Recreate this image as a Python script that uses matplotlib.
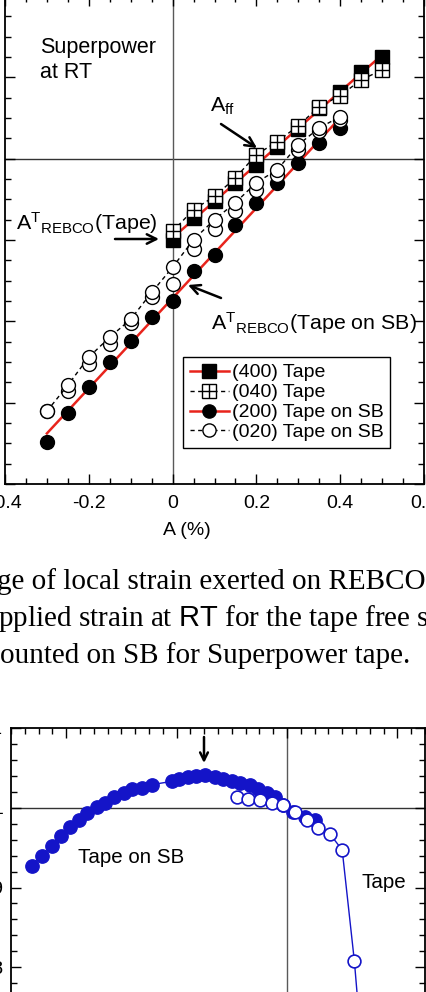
import numpy as np
import matplotlib.pyplot as plt
from matplotlib.lines import Line2D
from matplotlib.ticker import MultipleLocator

plt.rcParams['font.family'] = ['Liberation Sans', 'DejaVu Sans']
plt.rcParams['mathtext.fontset'] = 'custom'
plt.rcParams['mathtext.rm'] = 'Liberation Sans'
plt.rcParams['mathtext.sf'] = 'Liberation Sans'
plt.rcParams['mathtext.it'] = 'Liberation Sans:italic'
plt.rcParams['axes.unicode_minus'] = False

# ---- top panel: local strain on REBCO vs applied strain A (%)
tape_A = [0, 0.05, 0.1, 0.15, 0.2, 0.25, 0.3, 0.35, 0.4, 0.45, 0.5]
tape_400 = [-0.199, -0.147, -0.103, -0.059, -0.015, 0.029, 0.074, 0.125, 0.164, 0.213, 0.250]
tape_040 = [-0.179, -0.125, -0.093, -0.047, 0.010, 0.042, 0.081, 0.128, 0.155, 0.194, 0.218]

sb_A = [-0.3, -0.25, -0.2, -0.15, -0.1, -0.05, 0, 0.05, 0.1, 0.15, 0.2, 0.25, 0.3, 0.35, 0.4]
sb_200 = [-0.697, -0.626, -0.562, -0.501, -0.449, -0.390, -0.351, -0.277, -0.236,
          -0.162, -0.108, -0.059, -0.010, 0.039, 0.076]
sb_020_a = [-0.621, -0.557, -0.488, -0.439, -0.395, -0.329, -0.267, -0.199, -0.150,
            -0.108, -0.059, -0.027, 0.034, 0.076, 0.103]
sb_020_b = [-0.621, -0.572, -0.506, -0.456, -0.405, -0.341, -0.309, -0.223, -0.174,
            -0.128, -0.076, -0.039, 0.022, 0.069, 0.096]

legend_labels = ['(400) Tape', '(040) Tape', '(200) Tape on SB', '(020) Tape on SB']

# ---- bottom panel: normalized Ic vs A (%)
ic_sb_A = [-0.462, -0.444, -0.425, -0.409, -0.393, -0.376, -0.362, -0.345, -0.329, -0.313,
           -0.295, -0.280, -0.262, -0.245, -0.209, -0.195, -0.180, -0.164, -0.149, -0.131,
           -0.116, -0.100, -0.085, -0.067, -0.053, -0.036, -0.022, -0.007, 0.011, 0.033, 0.051]
ic_sb = [0.927, 0.940, 0.952, 0.964, 0.976, 0.985, 0.994, 1.001, 1.006, 1.013,
         1.018, 1.023, 1.025, 1.029, 1.033, 1.036, 1.039, 1.040, 1.041, 1.039,
         1.036, 1.033, 1.031, 1.028, 1.024, 1.019, 1.013, 1.004, 0.995, 0.989, 0.985]
ic_tape_A = [-0.091, -0.071, -0.049, -0.027, -0.007, 0.015, 0.036, 0.056, 0.078, 0.100, 0.122, 0.131]
ic_tape = [1.014, 1.011, 1.010, 1.006, 1.004, 0.995, 0.985, 0.975, 0.967, 0.947, 0.808, 0.734]

RED = '#e8241c'
BLUE = '#1414c8'
W, H = 427, 992

fig = plt.figure(figsize=(W / 100, H / 100), dpi=100)


def box(l, t, r, b):
    return [l / W, 1 - b / H, (r - l) / W, (b - t) / H]


def fp(x, y):
    # figure pixels measured from the top-left corner
    return (x, H - y)


def style_axes(ax):
    ax.tick_params(which='both', direction='in', top=True, right=True, width=1, labelsize=14)
    ax.tick_params(which='major', length=7)
    ax.tick_params(which='minor', length=4)
    for s in ax.spines.values():
        s.set_linewidth(1.3)


ax1 = fig.add_axes(box(5, -4, 424, 484))
style_axes(ax1)
ax1.set_xlim(-0.4, 0.6)
ax1.set_ylim(-0.8, 0.4)
ax1.set_xticks([-0.4, -0.2, 0, 0.2, 0.4, 0.6], labels=['-0.4', '-0.2', '0', '0.2', '0.4', '0.6'])
ax1.xaxis.set_minor_locator(MultipleLocator(0.05))
ax1.yaxis.set_major_locator(MultipleLocator(0.2))
ax1.yaxis.set_minor_locator(MultipleLocator(0.05))
ax1.tick_params(axis='y', labelleft=False)
ax1.tick_params(axis='x', pad=8)
ax1.axhline(0, color='0.2', lw=1, zorder=1)
ax1.axvline(0, color='0.35', lw=1, zorder=1)

# linear fits drawn as red lines
for xs, ys in ((tape_A, tape_400), (sb_A, sb_200)):
    k, b = np.polyfit(xs, ys, 1)
    xx = np.array([min(xs), max(xs)])
    ax1.plot(xx, k * xx + b, color=RED, lw=1.8, zorder=2)

ms = 10
dash = (0, (3, 2.5))
ax1.plot(tape_A, tape_400, ls='none', marker='s', ms=ms, mfc='k', mec='k', zorder=3)
ax1.plot(tape_A, tape_040, color='k', lw=1, ls=dash, marker='s', ms=ms, mfc='w', mec='k', mew=1, zorder=4)
ax1.plot(tape_A, tape_040, ls='none', marker='+', ms=ms, mec='k', mew=1, zorder=5)
ax1.plot(sb_A, sb_200, ls='none', marker='o', ms=ms, mfc='k', mec='k', zorder=3)
ax1.plot(sb_A, sb_020_b, ls='none', marker='o', ms=ms, mfc='w', mec='k', mew=1, zorder=4)
ax1.plot(sb_A, sb_020_a, color='k', lw=1, ls=dash, marker='o', ms=ms, mfc='w', mec='k', mew=1, zorder=4)

lms = 9.5
handles = [
    Line2D([], [], color=RED, lw=1.8, marker='s', ms=lms, mfc='k', mec='k'),
    (Line2D([], [], color='k', lw=1, ls=dash, marker='s', ms=lms, mfc='w', mec='k'),
     Line2D([], [], ls='none', marker='+', ms=lms, mec='k', mew=1)),
    Line2D([], [], color=RED, lw=1.8, marker='o', ms=lms, mfc='k', mec='k'),
    Line2D([], [], color='k', lw=1, ls=dash, marker='o', ms=lms, mfc='w', mec='k'),
]
leg = ax1.legend(handles, legend_labels, loc='upper left', bbox_to_anchor=((183 - 5) / 419, (484 - 357) / 488),
                 borderaxespad=0, fontsize=14, handlelength=2.0, handletextpad=0.15,
                 labelspacing=0.12, borderpad=0.35, fancybox=False, framealpha=1)
leg.get_frame().set_edgecolor('k')
leg.get_frame().set_linewidth(1)

ax1.set_xlabel('A (%)', fontsize=14)
ax1.xaxis.set_label_coords((187 - 5) / 419, (484 - 522) / 488)

fig.text(40 / W, 1 - 53 / H, 'Superpower', fontsize=15.5, va='baseline')
fig.text(40 / W, 1 - 78 / H, 'at RT', fontsize=15.5, va='baseline')

akw = dict(arrowstyle='->', lw=1.8, color='k', mutation_scale=17, shrinkA=0, shrinkB=0)
fig.text(210 / W, 1 - 112 / H, r'$\mathregular{A_{ff}}$', fontsize=15.4, va='baseline')
ax1.annotate('', xy=fp(257, 148), xycoords='figure pixels', xytext=fp(221, 124),
             textcoords='figure pixels', arrowprops=akw)
fig.text(16 / W, 1 - 230 / H, r'$\mathregular{A^T{}_{REBCO}}$(Tape)', fontsize=15.4, va='baseline')
ax1.annotate('', xy=fp(159, 239), xycoords='figure pixels', xytext=fp(115, 239),
             textcoords='figure pixels', arrowprops=akw)
fig.text(211 / W, 1 - 330 / H, r'$\mathregular{A^T{}_{REBCO}}$(Tape on SB)', fontsize=15.4, va='baseline')
ax1.annotate('', xy=fp(188, 285), xycoords='figure pixels', xytext=fp(221, 298),
             textcoords='figure pixels', arrowprops=akw)

# caption fragment
cap = dict(family=['Liberation Serif', 'DejaVu Serif'], fontsize=21, va='baseline')
fig.text(-3 / W, 1 - 589 / H, 'ge of local strain exerted on REBCO', **cap)
fig.text(-2 / W, 1 - 626 / H, r'pplied strain at $\mathsf{RT}$ for the tape free s', **cap)
fig.text(0 / W, 1 - 663 / H, 'ounted on SB for Superpower tape.', **cap)

# ---- bottom panel
ax2 = fig.add_axes(box(11, 728, 425, 1047))
style_axes(ax2)
ax2.set_xlim(-0.5, 0.25)
ax2.set_ylim(0.7, 1.1)
ax2.xaxis.set_major_locator(MultipleLocator(0.2))
ax2.xaxis.set_minor_locator(MultipleLocator(0.025))
ax2.set_yticks([0.7, 0.8, 0.9, 1.0, 1.1], labels=['0.7', '0.8', '0.9', '1', '1.1'])
ax2.yaxis.set_minor_locator(MultipleLocator(0.02))
ax2.tick_params(axis='x', labelbottom=False)
ax2.tick_params(axis='y', pad=5.8)
ax2.axhline(1.0, color='0.2', lw=1, zorder=1)
ax2.axvline(0, color='0.35', lw=1, zorder=1)

ax2.plot(ic_sb_A, ic_sb, color=BLUE, lw=1, marker='o', ms=9.6, mfc=BLUE, mec=BLUE, zorder=3)
ax2.plot(ic_tape_A, ic_tape, color=BLUE, lw=1, marker='o', ms=9.2, mfc='w', mec=BLUE, mew=1.2, zorder=4)

fig.text(78 / W, 1 - 863 / H, 'Tape on SB', fontsize=14.8, va='baseline')
fig.text(362 / W, 1 - 888 / H, 'Tape', fontsize=14.8, va='baseline')
ax2.annotate('', xy=fp(204, 763), xycoords='figure pixels', xytext=fp(204, 737),
             textcoords='figure pixels', arrowprops=dict(arrowstyle='->', lw=1.8, color='k',
                                                         mutation_scale=14, shrinkA=0, shrinkB=0))

fig.savefig('out.png', dpi=100)
